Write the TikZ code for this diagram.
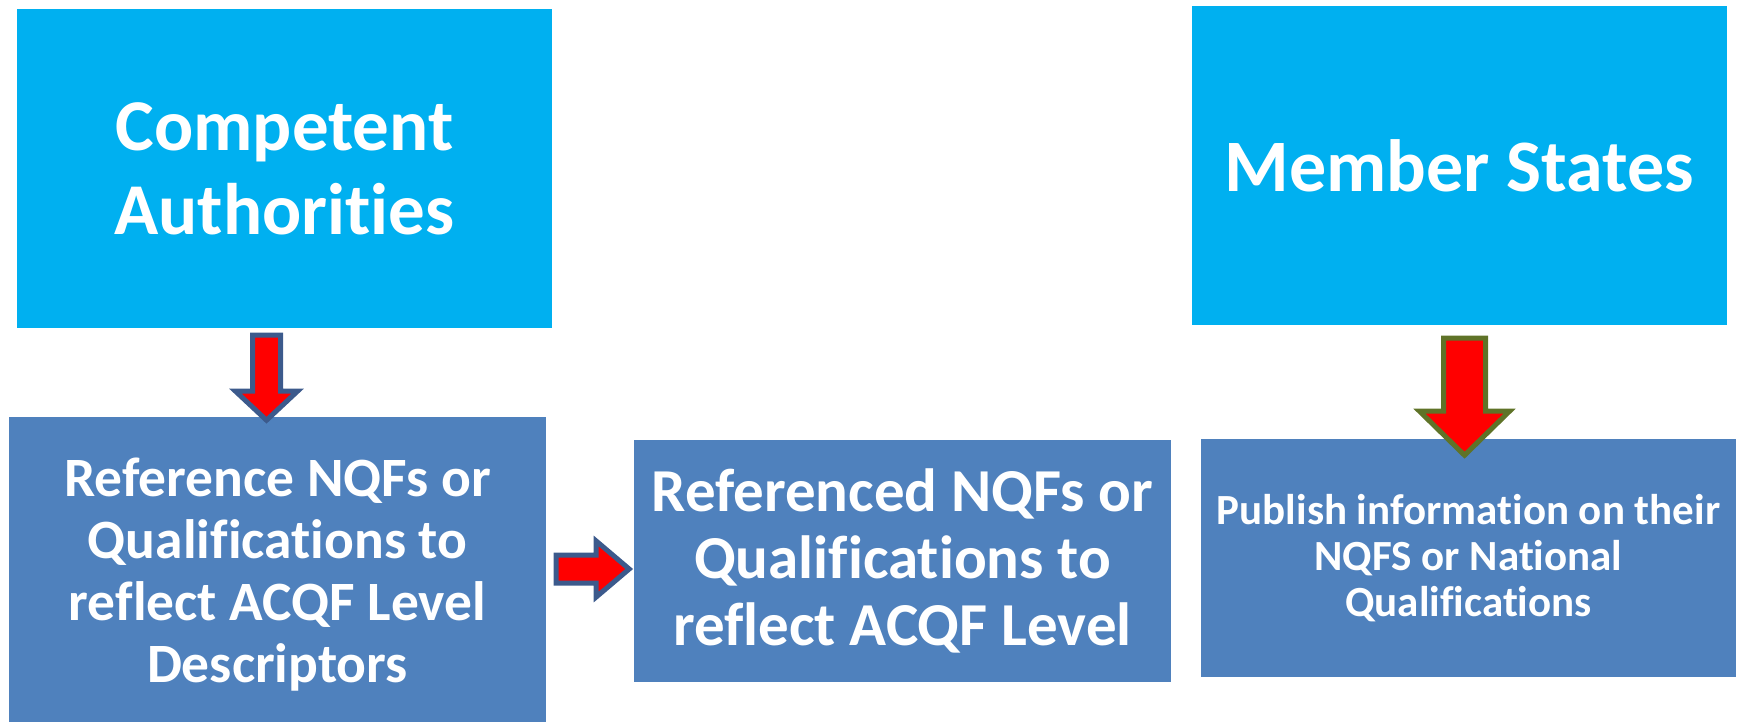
\documentclass[tikz,border=0pt]{standalone}
\usepackage{fontspec}
\setmainfont{Carlito}[Ligatures=NoCommon]
\definecolor{skyfill}{HTML}{00B0F0}
\definecolor{steelfill}{HTML}{4F81BD}
\definecolor{navyline}{HTML}{3C5A8C}
\definecolor{oliveline}{HTML}{5F7328}
\definecolor{arrowred}{HTML}{FF0000}
\usetikzlibrary{calc, positioning}

\tikzset{
  topbox/.style={fill=skyfill, draw=none, text=white,
    align=center, inner sep=0pt},
  lowbox/.style={fill=steelfill, draw=none, text=white,
    align=center, inner sep=0pt},
  redarrow/.style={fill=arrowred, line width=5pt, line join=miter}
}

\begin{document}
\begin{tikzpicture}[x=1pt, y=-1pt]
  \useasboundingbox (0,0) rectangle (1743,721);

  % Upper boxes
  \node[topbox, minimum width=535pt, minimum height=319pt,
    font={\fontsize{73}{84}\selectfont\bfseries}] (auth) at (284.5,168.5)
    {Competent\\Authorities};
  \node[topbox, minimum width=535pt, minimum height=319pt,
    font={\fontsize{74}{84}\selectfont\bfseries}] (states) at (1459.5,165.5)
    {Member States};

  % Lower boxes
  \node[lowbox, minimum width=537pt, minimum height=316pt,
    font={\fontsize{55.5}{62}\selectfont\bfseries}] (refer) at (277.5,575)
    {Reference NQFs or\\Qualifications to\\reflect ACQF Level\\Descriptors};
  \node[lowbox, minimum width=537pt, minimum height=242pt,
    font={\fontsize{61}{67}\selectfont\bfseries}] (refd) at (902.5,561)
    {Referenced NQFs or\\Qualifications to\\reflect ACQF Level};
  \node[lowbox, minimum width=535pt, minimum height=238pt,
    font={\fontsize{43}{46}\selectfont\bfseries}] (publ) at (1468.5,558)
    {Publish information on their\\NQFS or National\\Qualifications};

  % Block arrows
  \coordinate (a1) at ($(auth.south)+(-18,7)$);
  \coordinate (a2) at ($(refer.east)+(10,-6)$);
  \coordinate (a3) at ($(states.south)+(5,13)$);

  \draw[redarrow, draw=navyline] ($(a1)+(-14,0)$) -- ($(a1)+(14,0)$) -- ($(a1)+(14,56)$)
    -- ($(a1)+(31,56)$) -- ($(a1)+(0,85)$) -- ($(a1)+(-31,56)$) -- ($(a1)+(-14,56)$) -- cycle;
  \draw[redarrow, draw=navyline] ($(a2)+(0,-14)$) -- ($(a2)+(40,-14)$) -- ($(a2)+(40,-28)$)
    -- ($(a2)+(73,0)$) -- ($(a2)+(40,28)$) -- ($(a2)+(40,14)$) -- ($(a2)+(0,14)$) -- cycle;
  \draw[redarrow, draw=oliveline] ($(a3)+(-21,0)$) -- ($(a3)+(21,0)$) -- ($(a3)+(21,73)$)
    -- ($(a3)+(45,73)$) -- ($(a3)+(0,117)$) -- ($(a3)+(-45,73)$) -- ($(a3)+(-21,73)$) -- cycle;
\end{tikzpicture}
\end{document}
